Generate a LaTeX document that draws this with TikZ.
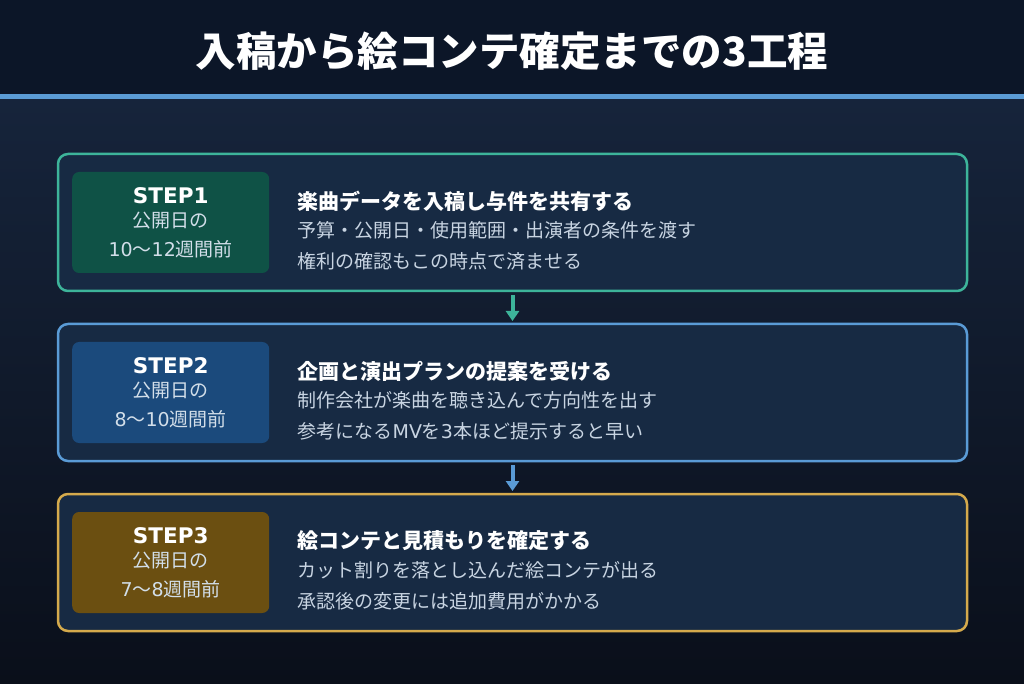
\documentclass[tikz,border=0pt]{standalone}
\usepackage{fontspec}
\setmainfont{Noto Sans CJK JP}
\newfontfamily\latinfont{DejaVu Sans}
\usetikzlibrary{calc,
arrows.meta,
shapes.misc,
positioning}

\definecolor{headbg}{HTML}{0C1628}
\definecolor{bodytop}{HTML}{16243B}
\definecolor{bodybot}{HTML}{0A0F1A}
\definecolor{accent}{HTML}{5B9BD5}
\definecolor{boxbg}{HTML}{172A43}
\definecolor{tealline}{HTML}{3DB49A}
\definecolor{tealbadge}{HTML}{0F5246}
\definecolor{blueline}{HTML}{5A9BD6}
\definecolor{bluebadge}{HTML}{1B4A7C}
\definecolor{goldline}{HTML}{D5AA4C}
\definecolor{goldbadge}{HTML}{6B4F11}
\definecolor{desctext}{HTML}{C8D4E2}
\definecolor{badgetext}{HTML}{D2DEE9}

\newcommand*{\lat}[1]{{\latinfont #1}}
\newcommand*{\stepname}[1]{{\latinfont\bfseries\fontsize{21.5}{21.5}\selectfont\color{white}#1}}
\newcommand*{\stephead}[1]{{\bfseries\fontsize{21}{21}\selectfont\color{white}#1}}

\begin{document}
\begin{tikzpicture} [x=1pt,
    y=1pt,
    >={Triangle[width=13pt, length=10pt]},
    stage box/.style={rectangle, rounded corners=10pt, draw,
        line width=2.5pt, fill=boxbg, outer sep=0pt,
        minimum width=909pt, minimum height=137pt},
    badge/.style={rectangle, rounded corners=7pt, inner sep=0pt,
        align=center, text=badgetext,
        minimum width=197pt, minimum height=101pt,
        font=\fontsize{19}{28.5}\selectfont},
    stage text/.style={anchor=west, align=left, inner sep=0pt,
        text=desctext, font=\fontsize{19}{31}\selectfont},
    flow/.style={->, line width=4pt, shorten <=4pt, shorten >=3pt}
  ]

  % background and header band
  \fill [top color=bodytop, bottom color=bodybot] (0, 0) rectangle (1024, 584);
  \fill [headbg] (0, 589) rectangle (1024, 683);
  \fill [accent] (0, 584) rectangle (1024, 589);
  \useasboundingbox (0, 0) rectangle (1024, 683);

  \node [
    text = white,
    font = \bfseries\fontsize{40.5}{40.5}\selectfont
  ] (title) at (512, 632) {入稿から絵コンテ確定までの3工程};

  % STEP1
  \node [stage box,
    draw = tealline
  ] (box1) at (512.5, 460.5) {};

  \node [badge,
    fill = tealbadge,
    right = 14pt of box1.west
  ] (badge1) {\stepname{STEP1}\\[-4pt]公開日の\\\lat{10}〜\lat{12}週間前};

  \node [stage text] (text1) at ($(badge1.east) + (28, -8)$)
  {\stephead{楽曲データを入稿し与件を共有する}\\[-2.5pt]
  予算・公開日・使用範囲・出演者の条件を渡す\\
  権利の確認もこの時点で済ませる};

  % STEP2
  \node [stage box,
    draw = blueline,
    below = 33pt of box1
  ] (box2) {};

  \node [badge,
    fill = bluebadge,
    right = 14pt of box2.west
  ] (badge2) {\stepname{STEP2}\\[-4pt]公開日の\\\lat{8}〜\lat{10}週間前};

  \node [stage text] (text2) at ($(badge2.east) + (28, -8)$)
  {\stephead{企画と演出プランの提案を受ける}\\[-2.5pt]
  制作会社が楽曲を聴き込んで方向性を出す\\
  参考になる\lat{MV}を\lat{3}本ほど提示すると早い};

  % STEP3
  \node [stage box,
    draw = goldline,
    below = 33pt of box2
  ] (box3) {};

  \node [badge,
    fill = goldbadge,
    right = 14pt of box3.west
  ] (badge3) {\stepname{STEP3}\\[-4pt]公開日の\\\lat{7}〜\lat{8}週間前};

  \node [stage text] (text3) at ($(badge3.east) + (28, -8)$)
  {\stephead{絵コンテと見積もりを確定する}\\[-2.5pt]
  カット割りを落とし込んだ絵コンテが出る\\
  承認後の変更には追加費用がかかる};

  \draw [flow, tealline] (box1.south) -- (box2.north);
  \draw [flow, blueline] (box2.south) -- (box3.north);

\end{tikzpicture}
\end{document}
